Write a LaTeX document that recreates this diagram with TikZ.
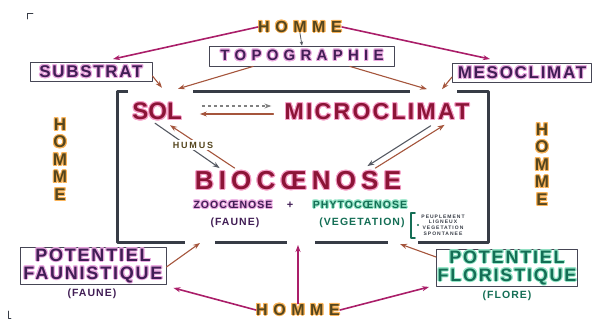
\documentclass[tikz,border=0pt]{standalone}
\usepackage{fontspec}
\setmainfont{Liberation Sans}
\newfontfamily\largefont[LetterSpace=10]{Liberation Sans}
\newfontfamily\largerfont[LetterSpace=20]{Liberation Sans}
\newfontfamily\espacefont[LetterSpace=35]{Liberation Sans}
\usepackage{contour}
\contourlength{1pt}
\usetikzlibrary{arrows.meta}

\definecolor{magfl}{RGB}{170,30,105}
\definecolor{brun}{RGB}{165,85,60}
\definecolor{cadre}{RGB}{55,60,70}
\definecolor{bordure}{RGB}{70,70,85}
\definecolor{cramoisi}{RGB}{140,20,55}
\definecolor{rose}{RGB}{245,160,200}
\definecolor{violetfonce}{RGB}{65,30,85}
\definecolor{rosepale}{RGB}{235,170,225}
\definecolor{vertfonce}{RGB}{20,110,85}
\definecolor{vertpale}{RGB}{150,230,200}
\definecolor{olive}{RGB}{85,70,30}
\definecolor{orangepale}{RGB}{250,180,90}

\begin{document}
\begin{tikzpicture}[x=1pt, y=-1pt, line cap=round, line join=round,
	boite/.style={draw=bordure, line width=0.9pt, inner sep=0pt},
	mot/.style={inner sep=0pt},
	fl/.style={-{Stealth[length=7pt,width=5pt]}, line width=1.1pt},
	flh/.style={fl, draw=magfl, line width=1.6pt},
	flb/.style={fl, draw=brun},
	fln/.style={fl, draw=cadre!85}]
	\useasboundingbox (0,0) rectangle (598,321);

	% Reperes de coin
	\draw[cadre, line width=0.8pt] (27,19) -- (27,13) -- (33,13);
	\draw[cadre, line width=0.8pt] (8,311) -- (8,318) -- (11,318);

	% Cadre de l'ecosysteme
	\draw[cadre, line width=3pt, line cap=butt] (128,92) -- (117,92) -- (117,242) -- (185,242);
	\draw[cadre, line width=3pt, line cap=butt] (193,92) -- (410,92);
	\draw[cadre, line width=3pt, line cap=butt] (457,92) -- (488,92) -- (488,242) -- (418,242);
	\foreach \a/\b in {215/287, 315/388}
		\draw[cadre, line width=3pt, line cap=butt] (\a,242) -- (\b,242);

	% Homme en haut et facteurs externes
	\node[mot, font=\espacefont\bfseries\fontsize{16}{16}\selectfont, text=olive] (hautH) at (300,27) {\contour{orangepale}{HOMME}};
	\node[boite, minimum width=185pt, minimum height=20pt, font=\espacefont\bfseries\fontsize{15}{15}\selectfont, text=violetfonce] (topo) at (302,56) {\contour{rosepale}{TOPOGRAPHIE}};
	\node[boite, minimum width=122pt, minimum height=19pt, font=\largefont\bfseries\fontsize{17}{17}\selectfont, text=violetfonce] (substrat) at (91,72) {\contour{rosepale}{SUBSTRAT}};
	\node[boite, minimum width=139pt, minimum height=19pt, font=\largefont\bfseries\fontsize{17}{17}\selectfont, text=violetfonce] (meso) at (522,73) {\contour{rosepale}{MESOCLIMAT}};

	% Composantes internes
	\node[mot, font=\bfseries\fontsize{24}{24}\selectfont, text=cramoisi] (sol) at (157,112) {\contour{rose}{SOL}};
	\node[mot, font=\largefont\bfseries\fontsize{23}{23}\selectfont, text=cramoisi] (micro) at (377,112) {\contour{rose}{MICROCLIMAT}};
	\node[mot, font=\largerfont\bfseries\fontsize{26}{26}\selectfont, text=cramoisi] (bio) at (298,181) {\contour{rose}{BIOCŒNOSE}};

	\node[mot, font=\largefont\bfseries\fontsize{10.5}{10.5}\selectfont, text=violetfonce] (zoo) at (233,205) {\contour{rosepale}{ZOOCŒNOSE}};
	\node[mot, font=\bfseries\fontsize{11}{11}\selectfont, text=violetfonce] (plus) at (290,205) {+};
	\node[mot, font=\largefont\bfseries\fontsize{10.5}{10.5}\selectfont, text=vertfonce] (phyto) at (360,205) {\contour{vertpale}{PHYTOCŒNOSE}};
	\node[mot, font=\largefont\bfseries\fontsize{10.5}{10.5}\selectfont, text=violetfonce] (faune) at (235,223) {(FAUNE)};
	\node[mot, font=\largefont\bfseries\fontsize{10.5}{10.5}\selectfont, text=vertfonce] (vegetation) at (362,223) {(VEGETATION)};
	\draw[vertfonce, line width=1.6pt] (415,213) -- (411,213) -- (411,238) -- (415,238);
	\fill[vertfonce] (418,225) circle (1.2pt);
	\node[mot, align=center, font=\largerfont\bfseries\fontsize{5}{5.6}\selectfont, text=cadre] (peuplement) at (443,225) {PEUPLEMENT\\LIGNEUX\\VEGETATION\\SPONTANEE};

	% Potentiels
	\node[boite, minimum width=146pt, minimum height=37pt, align=center, font=\largefont\bfseries\fontsize{18}{18}\selectfont, text=violetfonce] (pfaun) at (93,266) {\contour{rosepale}{POTENTIEL}\\\contour{rosepale}{FAUNISTIQUE}};
	\node[mot, font=\largefont\bfseries\fontsize{10.5}{10.5}\selectfont, text=violetfonce] (faune2) at (92,294) {(FAUNE)};
	\node[boite, minimum width=141pt, minimum height=37pt, align=center, font=\largefont\bfseries\fontsize{18}{18}\selectfont, text=vertfonce] (pflor) at (507,268) {\contour{vertpale}{POTENTIEL}\\\contour{vertpale}{FLORISTIQUE}};
	\node[mot, font=\largefont\bfseries\fontsize{10.5}{10.5}\selectfont, text=vertfonce] (flore) at (507,296) {(FLORE)};

	% Homme en bas et sur les cotes
	\node[mot, font=\espacefont\bfseries\fontsize{16}{16}\selectfont, text=olive] (basH) at (298,310) {\contour{orangepale}{HOMME}};
	\node[mot, align=center, font=\bfseries\fontsize{17}{17.5}\selectfont, text=olive] (gaucheH) at (60,160) {\contour{orangepale}{H}\\\contour{orangepale}{O}\\\contour{orangepale}{M}\\\contour{orangepale}{M}\\\contour{orangepale}{E}};
	\node[mot, align=center, font=\bfseries\fontsize{17}{17.5}\selectfont, text=olive] (droiteH) at (542,165) {\contour{orangepale}{H}\\\contour{orangepale}{O}\\\contour{orangepale}{M}\\\contour{orangepale}{M}\\\contour{orangepale}{E}};

	\coordinate (trouG) at (200,243);
	\coordinate (trouM) at (298,245);
	\coordinate (trouD) at (400,244);

	% Fleches du haut
	\draw[flh] (hautH.west) -- ([xshift=22pt,yshift=3pt]substrat.north);
	\draw[flh] (hautH.east) -- ([xshift=-32pt,yshift=4pt]meso.north);
	\draw[fln, line width=0.8pt, -{Stealth[length=4pt,width=3.5pt]}] (hautH.south) -- (topo.north);
	\draw[flb] ([yshift=-4pt]substrat.east) -- ([xshift=5pt,yshift=15pt]sol.north);
	\draw[flb] ([xshift=-49pt]topo.south) -- ([xshift=21pt,yshift=14pt]sol.north);
	\draw[flb] ([xshift=48pt]topo.south) -- ([xshift=50pt,yshift=14pt]micro.north);
	\draw[flb] ([yshift=-4pt]meso.west) -- ([xshift=65pt,yshift=14pt]micro.north);

	% Relations internes
	\draw[fln, draw=gray, dashed, line cap=butt] ([xshift=20pt,yshift=6pt]sol.east) -- ([xshift=-13pt,yshift=6pt]micro.west);
	\draw[flb] ([xshift=-11pt,yshift=-2pt]micro.west) -- ([xshift=18pt,yshift=-2pt]sol.east);
	\draw[fln] ([xshift=-2pt,yshift=-2pt]sol.south) -- ([xshift=25pt,yshift=3pt]bio.north west);
	\draw[flb] ([xshift=40pt,yshift=3pt]bio.north west) -- ([xshift=13pt,yshift=-4pt]sol.south);
	\draw[fln] ([xshift=-39pt,yshift=-5pt]micro.south east) -- ([xshift=-34pt,yshift=5pt]bio.north east);
	\draw[flb] ([xshift=-26pt,yshift=3pt]bio.north east) -- ([xshift=-25pt,yshift=-4pt]micro.south east);
	\node[mot, fill=white, inner sep=1.5pt, font=\largerfont\bfseries\fontsize{9}{9}\selectfont, text=olive] (humus) at (193,145) {HUMUS};

	% Fleches du bas
	\draw[flb] ([yshift=-1pt]pfaun.east) -- (trouG);
	\draw[flb] ([yshift=11pt]pflor.west) -- (trouD);
	\draw[flh] (basH.north) -- (trouM);
	\draw[flh] (basH.west) -- ([xshift=7pt,yshift=-3pt]pfaun.south east);
	\draw[flh] (basH.east) -- ([xshift=-7pt]pflor.south west);
\end{tikzpicture}
\end{document}
